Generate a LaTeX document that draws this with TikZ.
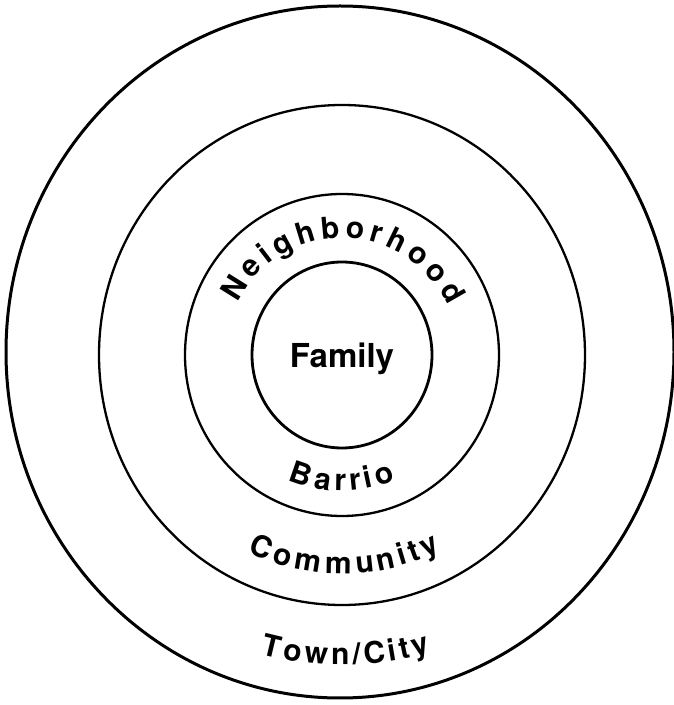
\documentclass[tikz,border=0pt]{standalone}
\usepackage{fontspec}
\setmainfont{TeX Gyre Heros}
\usetikzlibrary{positioning}

\begin{document}
\begin{tikzpicture}[
  x=1pt, y=1pt,
  anel/.style={draw, line width=2.3pt},
  letra/.style={font=\bfseries\fontsize{30}{34}\selectfont, inner sep=0pt, anchor=base},
  rotulo/.style={font=\bfseries\fontsize{33}{36}\selectfont, inner sep=0pt}
]
\useasboundingbox (0,0) rectangle (674,705);
\coordinate (c) at (342,350);
\draw[anel, line width=3pt] (340,353) ellipse [x radius=334, y radius=346];
\draw[anel] (c) ellipse [x radius=243, y radius=250];
\draw[anel] (c) ellipse [x radius=157, y radius=161];
\draw[anel, line width=2.8pt] (c) ellipse [x radius=90, y radius=93];
\node[rotulo] (familia) at ([yshift=-4pt]c) {Family};
\foreach \ch/\a [count=\i] in {N/148, e/136.1, i/127.4, g/118.3, h/106.9, b/95.4,
    o/83.9, r/74.0, h/64.1, o/52.7, o/41.2, d/29.7}
  \node[letra, rotate=\a-90] (vizinhanca-\i) at ([shift={(\a:117)}]c) {\ch};
\foreach \ch/\a [count=\i] in {B/-109, a/-98.7, r/-90.8, r/-84.1, i/-78.1, o/-70.6}
  \node[letra, rotate=\a+90] (bairro-\i) at ([shift={(\a:136)}]c) {\ch};
\foreach \ch/\a [count=\i] in {C/-112.8, o/-106.4, m/-99.3, m/-91.0, u/-83.8,
    n/-77.9, i/-73.3, t/-70.0, y/-65.4}
  \node[letra, rotate=\a+90] (comunidade-\i) at ([shift={(\a:219)}]c) {\ch};
\foreach \ch/\a [count=\i] in {T/-103.5, o/-99.4, w/-94.9, n/-90.3, {/}/-87.2,
    C/-83.8, i/-80.4, t/-78.1, y/-75.0}
  \node[letra, rotate=\a+90] (cidade-\i) at ([shift={(\a:310)}]c) {\ch};
\end{tikzpicture}
\end{document}
